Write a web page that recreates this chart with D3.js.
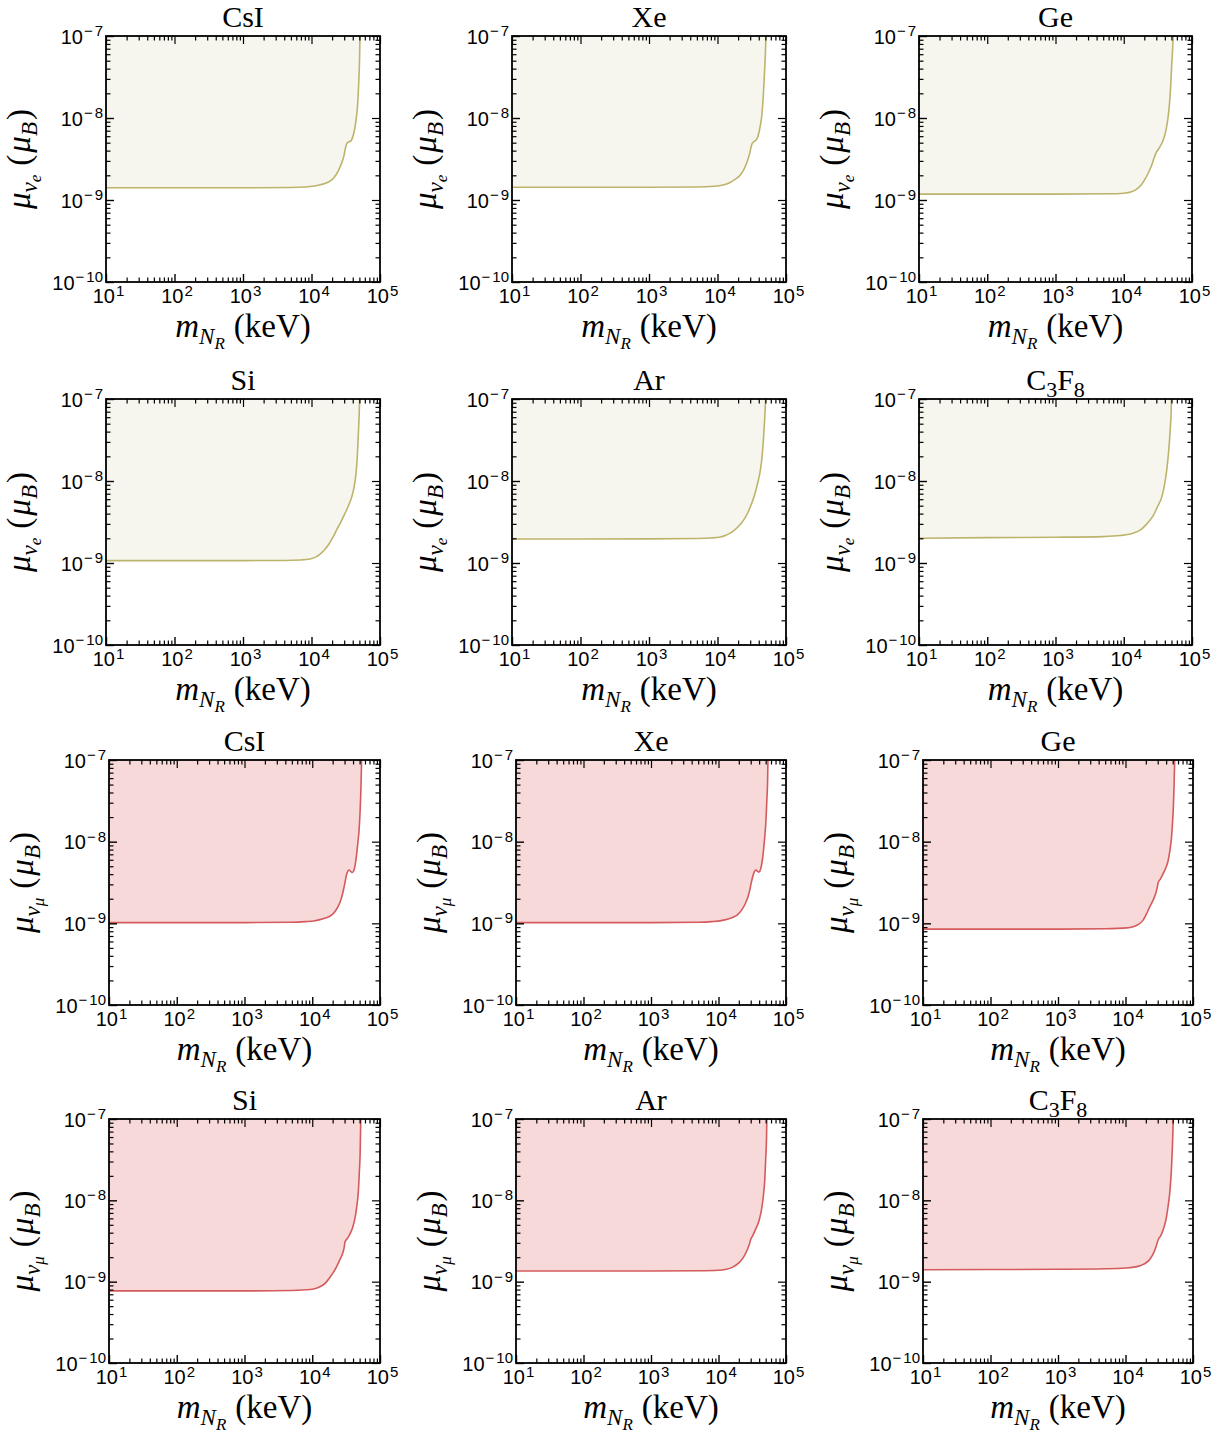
<!DOCTYPE html>
<html><head><meta charset="utf-8">
<script src="https://cdn.jsdelivr.net/npm/d3@7"></script>
<style>
html,body{margin:0;padding:0;background:#fff;}
svg{display:block;font-family:"Liberation Serif","DejaVu Serif",serif;}
</style></head>
<body>
<svg id="chart" width="1218" height="1433"></svg>
<script>
// ---- data (m_NR in keV, mu in Bohr magnetons) ----
const titles = ["CsI","Xe","Ge","Si","Ar","C3F8"];
const xTicks = [1e1,1e2,1e3,1e4,1e5];
const xExps = ["1","2","3","4","5"];
const yTicks = [1e-10,1e-9,1e-8,1e-7];
const yExps = ["\u221210","\u22129","\u22128","\u22127"];

// electron-neutrino panels
const csiE = [[10,1.41e-9],[1e3,1.41e-9],[5e3,1.42e-9],[8e3,1.44e-9],[1.05e4,1.47e-9],[1.3e4,1.52e-9],[1.6e4,1.6e-9],[1.86e4,1.7e-9],[2.15e4,1.9e-9],[2.45e4,2.25e-9],[2.7e4,2.7e-9],[2.96e4,3.4e-9],[3.15e4,4.4e-9],[3.3e4,4.95e-9],[3.5e4,5.1e-9],[3.8e4,5.3e-9],[4.07e4,6.2e-9],[4.3e4,7.6e-9],[4.47e4,9.5e-9],[4.7e4,1.4e-8],[4.9e4,2.8e-8],[5.05e4,6e-8],[5.1e4,1e-7]];
const xeE  = [[10,1.43e-9],[1e3,1.43e-9],[5e3,1.44e-9],[9e3,1.47e-9],[1.2e4,1.52e-9],[1.5e4,1.62e-9],[1.8e4,1.78e-9],[2.14e4,2.0e-9],[2.45e4,2.4e-9],[2.7e4,2.9e-9],[2.95e4,3.7e-9],[3.15e4,4.7e-9],[3.35e4,5.1e-9],[3.6e4,5.3e-9],[3.9e4,6.0e-9],[4.15e4,7.5e-9],[4.42e4,1.05e-8],[4.65e4,1.8e-8],[4.85e4,3.5e-8],[5.0e4,6e-8],[5.1e4,1e-7]];
const geE  = [[10,1.18e-9],[1e3,1.18e-9],[6e3,1.19e-9],[1e4,1.21e-9],[1.3e4,1.26e-9],[1.55e4,1.36e-9],[1.8e4,1.52e-9],[2.04e4,1.78e-9],[2.3e4,2.15e-9],[2.57e4,2.67e-9],[2.8e4,3.3e-9],[3.0e4,3.8e-9],[3.3e4,4.3e-9],[3.63e4,4.95e-9],[3.9e4,5.8e-9],[4.17e4,7.2e-9],[4.45e4,1.0e-8],[4.68e4,1.5e-8],[4.88e4,2.5e-8],[5.05e4,4.6e-8],[5.2e4,7e-8],[5.3e4,1e-7]];
const siE  = [[10,1.07e-9],[1e3,1.07e-9],[4e3,1.075e-9],[7e3,1.09e-9],[9.5e3,1.12e-9],[1.15e4,1.18e-9],[1.32e4,1.27e-9],[1.55e4,1.45e-9],[1.78e4,1.68e-9],[2.05e4,2.05e-9],[2.34e4,2.55e-9],[2.7e4,3.2e-9],[3.09e4,4.05e-9],[3.5e4,5.1e-9],[3.89e4,6.5e-9],[4.2e4,8.6e-9],[4.47e4,1.25e-8],[4.65e4,1.9e-8],[4.79e4,3.2e-8],[4.95e4,6e-8],[5.05e4,1e-7]];
const arE  = [[10,1.96e-9],[1e3,1.97e-9],[5e3,1.99e-9],[8e3,2.02e-9],[1.1e4,2.08e-9],[1.3e4,2.17e-9],[1.51e4,2.3e-9],[1.8e4,2.55e-9],[2.14e4,2.95e-9],[2.5e4,3.5e-9],[2.82e4,4.25e-9],[3.2e4,5.5e-9],[3.55e4,7.2e-9],[3.9e4,9.8e-9],[4.17e4,1.27e-8],[4.45e4,1.9e-8],[4.68e4,3.2e-8],[4.9e4,6e-8],[5.05e4,1e-7]];
const c3f8E= [[10,2.0e-9],[1e2,2.04e-9],[1e3,2.06e-9],[5e3,2.1e-9],[8.9e3,2.16e-9],[1.2e4,2.24e-9],[1.45e4,2.35e-9],[1.74e4,2.52e-9],[2.1e4,2.9e-9],[2.4e4,3.3e-9],[2.69e4,3.75e-9],[3.1e4,4.8e-9],[3.63e4,6.5e-9],[4.0e4,9.5e-9],[4.27e4,1.38e-8],[4.55e4,2.3e-8],[4.79e4,4.2e-8],[4.95e4,7e-8],[5.0e4,1e-7]];

// muon-neutrino panels
const csiM = [[10,1.02e-9],[1e3,1.02e-9],[5e3,1.03e-9],[8e3,1.05e-9],[1.05e4,1.07e-9],[1.3e4,1.11e-9],[1.6e4,1.17e-9],[1.82e4,1.22e-9],[2.1e4,1.35e-9],[2.4e4,1.6e-9],[2.65e4,1.95e-9],[2.82e4,2.35e-9],[2.95e4,2.8e-9],[3.05e4,3.2e-9],[3.2e4,3.9e-9],[3.35e4,4.35e-9],[3.5e4,4.5e-9],[3.7e4,4.3e-9],[3.9e4,4.2e-9],[4.1e4,4.4e-9],[4.3e4,5.2e-9],[4.5e4,6.8e-9],[4.7e4,9.5e-9],[4.9e4,1.35e-8],[5.1e4,2.5e-8],[5.25e4,5e-8],[5.35e4,1e-7]];
const xeM  = [[10,1.02e-9],[1e3,1.02e-9],[5e3,1.03e-9],[8e3,1.05e-9],[1.1e4,1.08e-9],[1.35e4,1.12e-9],[1.65e4,1.19e-9],[1.9e4,1.27e-9],[2.2e4,1.45e-9],[2.5e4,1.75e-9],[2.75e4,2.15e-9],[2.92e4,2.6e-9],[3.05e4,3.1e-9],[3.2e4,3.7e-9],[3.4e4,4.3e-9],[3.6e4,4.5e-9],[3.8e4,4.3e-9],[4.0e4,4.25e-9],[4.2e4,4.6e-9],[4.4e4,5.5e-9],[4.6e4,7.3e-9],[4.8e4,1.05e-8],[5.0e4,1.6e-8],[5.2e4,3.2e-8],[5.35e4,6e-8],[5.4e4,1e-7]];
const geM  = [[10,0.85e-9],[1e3,0.85e-9],[5e3,0.86e-9],[1.05e4,0.88e-9],[1.3e4,0.91e-9],[1.55e4,0.97e-9],[1.8e4,1.08e-9],[2.04e4,1.3e-9],[2.25e4,1.55e-9],[2.45e4,1.78e-9],[2.65e4,2.05e-9],[2.82e4,2.35e-9],[2.95e4,2.75e-9],[3.05e4,3.15e-9],[3.3e4,3.5e-9],[3.63e4,4.1e-9],[4.0e4,4.9e-9],[4.27e4,5.8e-9],[4.55e4,7.8e-9],[4.79e4,1.1e-8],[4.95e4,1.6e-8],[5.13e4,2.8e-8],[5.25e4,5e-8],[5.35e4,1e-7]];
const siM  = [[10,0.77e-9],[1e3,0.77e-9],[5e3,0.78e-9],[9.3e3,0.8e-9],[1.15e4,0.83e-9],[1.38e4,0.89e-9],[1.6e4,0.98e-9],[1.78e4,1.1e-9],[2.05e4,1.3e-9],[2.29e4,1.53e-9],[2.55e4,1.85e-9],[2.82e4,2.25e-9],[2.95e4,2.6e-9],[3.05e4,3.1e-9],[3.3e4,3.4e-9],[3.55e4,3.75e-9],[3.9e4,4.5e-9],[4.27e4,6.0e-9],[4.55e4,8.5e-9],[4.79e4,1.28e-8],[4.95e4,2.2e-8],[5.1e4,4e-8],[5.2e4,1e-7]];
const arM  = [[10,1.35e-9],[1e3,1.35e-9],[5e3,1.36e-9],[1e4,1.38e-9],[1.3e4,1.42e-9],[1.6e4,1.5e-9],[2e4,1.7e-9],[2.3e4,1.95e-9],[2.6e4,2.35e-9],[2.85e4,2.85e-9],[3.0e4,3.3e-9],[3.2e4,3.65e-9],[3.5e4,4.3e-9],[4.0e4,5.7e-9],[4.35e4,7.8e-9],[4.6e4,1.1e-8],[4.85e4,1.8e-8],[5.0e4,3.2e-8],[5.15e4,6e-8],[5.2e4,1e-7]];
const c3f8M= [[10,1.40e-9],[1e2,1.41e-9],[1e3,1.42e-9],[5e3,1.44e-9],[1e4,1.47e-9],[1.48e4,1.53e-9],[1.8e4,1.62e-9],[2.19e4,1.8e-9],[2.5e4,2.1e-9],[2.75e4,2.5e-9],[2.95e4,3.0e-9],[3.09e4,3.35e-9],[3.35e4,3.7e-9],[3.63e4,4.4e-9],[4.0e4,5.9e-9],[4.27e4,8.4e-9],[4.55e4,1.3e-8],[4.79e4,2.4e-8],[4.95e4,4.5e-8],[5.1e4,1e-7]];

const seriesE = [csiE,xeE,geE,siE,arE,c3f8E];
const seriesM = [csiM,xeM,geM,siM,arM,c3f8M];

// ---- layout ----
const colLeft = [[106,512,919],[106,512,919],[109,516,923],[109,516,923]];
const colRight = [[380,786,1192],[380,786,1192],[380,786,1193],[380,786,1193]];
const rowTop = [36,399,760,1119];
const rowBot = [282,645,1005,1363];

const eStyle = {fill:"#f7f6ee", line:"#bdb46c"};
const mStyle = {fill:"#f8d9d9", line:"#d45a5c"};

const svg = d3.select("#chart");

function minorTicks(lo, hi){
  const out=[];
  for(let e=lo;e<hi;e++) for(let k=2;k<=9;k++) out.push(k*Math.pow(10,e));
  return out;
}
const xMinor = minorTicks(1,5);
const yMinor = minorTicks(-10,-7);

function supLabels(sel, exps, vals){
  sel.selectAll(".tick text").each(function(d){
    const i = vals.indexOf(d);
    const t = d3.select(this);
    t.text("10");
    const e = exps[i];
    const sup = t.append("tspan").attr("dy","-0.5em").attr("font-size","15px").attr("dx","1");
    if(e[0]==="\u2212"){
      sup.text("\u2212");
      t.append("tspan").attr("font-size","15px").attr("dx","2").text(e.slice(1));
    } else sup.text(e);
  });
}

function addTitle(g, cx, y, name){
  const t = g.append("text").attr("x",cx).attr("y",y).attr("text-anchor","middle")
    .attr("font-size","30px").attr("fill","#000");
  if(name==="C3F8"){
    t.append("tspan").text("C");
    t.append("tspan").attr("dy","7").attr("font-size","22px").text("3");
    t.append("tspan").attr("dy","-7").text("F");
    t.append("tspan").attr("dy","7").attr("font-size","22px").text("8");
  } else t.text(name);
}

function drawPanel(r, c, data, style, flavor){
  const L=colLeft[r][c], R=colRight[r][c], T=rowTop[r], B=rowBot[r];
  const x = d3.scaleLog().domain([1e1,1e5]).range([L,R]);
  const y = d3.scaleLog().domain([1e-10,1e-7]).range([B,T]);
  const g = svg.append("g");
  const clipId = "clip"+r+"_"+c;
  g.append("clipPath").attr("id",clipId).append("rect").attr("x",L).attr("y",T).attr("width",R-L).attr("height",B-T);

  const area = d3.area().x(d=>x(d[0])).y0(y(1e-7)).y1(d=>y(d[1])).curve(d3.curveMonotoneX);
  const line = d3.line().x(d=>x(d[0])).y(d=>y(d[1])).curve(d3.curveMonotoneX);
  const pg = g.append("g").attr("clip-path",`url(#${clipId})`);
  pg.append("path").datum(data).attr("d",area).attr("fill",style.fill).attr("stroke","none");
  pg.append("path").datum(data).attr("d",line).attr("fill","none").attr("stroke",style.line).attr("stroke-width",1.6);

  const mk = (axis, tr, vals, size) => {
    const a = g.append("g").attr("transform",tr).call(axis.tickValues(vals).tickSize(size).tickFormat(()=>""));
    a.select(".domain").remove();
    a.selectAll(".tick line").attr("stroke","#000").attr("stroke-width",1.2);
    a.selectAll(".tick text").remove();
    return a;
  };
  // minor ticks, inward on all sides
  mk(d3.axisBottom(x), `translate(0,${B})`, xMinor, -4.5);
  mk(d3.axisTop(x), `translate(0,${T})`, xMinor, -4.5);
  mk(d3.axisLeft(y), `translate(${L},0)`, yMinor, -4.5);
  mk(d3.axisRight(y), `translate(${R},0)`, yMinor, -4.5);
  mk(d3.axisTop(x), `translate(0,${T})`, xTicks, -8);
  mk(d3.axisRight(y), `translate(${R},0)`, yTicks, -8);

  // major ticks with labels
  const xa = g.append("g").attr("transform",`translate(0,${B})`)
    .call(d3.axisBottom(x).tickValues(xTicks).tickSizeInner(-8).tickSizeOuter(0).tickFormat(d=>""));
  xa.select(".domain").remove();
  xa.selectAll(".tick line").attr("stroke","#000").attr("stroke-width",1.4);
  xa.selectAll(".tick text").attr("font-size","20px").attr("fill","#000").attr("y",21).attr("dy",0).attr("dx","2");
  supLabels(xa, xExps, xTicks);

  const ya = g.append("g").attr("transform",`translate(${L},0)`)
    .call(d3.axisLeft(y).tickValues(yTicks).tickSizeInner(-8).tickSizeOuter(0).tickPadding(3).tickFormat(d=>""));
  ya.select(".domain").remove();
  ya.selectAll(".tick line").attr("stroke","#000").attr("stroke-width",1.4);
  ya.selectAll(".tick text").attr("font-size","20px").attr("fill","#000").attr("dy","0.35em");
  supLabels(ya, yExps, yTicks);

  // frame
  g.append("rect").attr("x",L).attr("y",T).attr("width",R-L).attr("height",B-T)
    .attr("fill","none").attr("stroke","#000").attr("stroke-width",1.8);

  // title
  addTitle(g, (L+R)/2, T-9, titles[c + (r%2)*3]);

  // x label
  const xl = g.append("text").attr("x",(L+R)/2).attr("y",B+55).attr("text-anchor","middle").attr("font-size","33px").attr("fill","#000");
  xl.append("tspan").attr("font-style","italic").text("m");
  xl.append("tspan").attr("font-style","italic").attr("font-size","23px").attr("dy","7").text("N");
  xl.append("tspan").attr("font-style","italic").attr("font-size","17px").attr("dy","5").text("R");
  xl.append("tspan").attr("dy","-12").attr("dx","9").text("(keV)");

  // y label
  const cy=(T+B)/2, cx=L-76;
  const yl = g.append("text").attr("transform",`translate(${cx},${cy}) rotate(-90)`).attr("text-anchor","middle").attr("font-size","33px").attr("fill","#000");
  yl.append("tspan").attr("font-style","italic").text("\u03bc");
  yl.append("tspan").attr("font-style","italic").attr("font-size","23px").attr("dy","7").text("\u03bd");
  yl.append("tspan").attr("font-style","italic").attr("font-size","17px").attr("dy","4").text(flavor);
  yl.append("tspan").attr("dy","-11").attr("dx","9").text("(");
  yl.append("tspan").attr("font-style","italic").attr("dx","2").text("\u03bc");
  yl.append("tspan").attr("font-style","italic").attr("font-size","23px").attr("dy","7").text("B");
  yl.append("tspan").attr("dy","-7").attr("dx","2").text(")");
}

for(let r=0;r<4;r++){
  for(let c=0;c<3;c++){
    const idx = c + (r%2)*3;
    if(r<2) drawPanel(r,c,seriesE[idx],eStyle,"e");
    else drawPanel(r,c,seriesM[idx],mStyle,"\u03bc");
  }
}
</script>
</body></html>
